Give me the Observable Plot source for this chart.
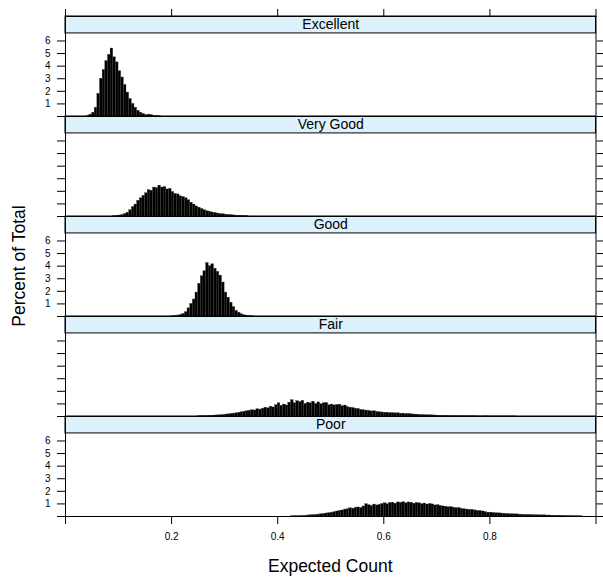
<!DOCTYPE html>
<html>
<head>
<meta charset="utf-8">
<script src="https://cdn.jsdelivr.net/npm/d3@7"></script>
<script src="https://cdn.jsdelivr.net/npm/@observablehq/plot@0.6"></script>
<style>
  html, body { margin: 0; padding: 0; background: white; }
  #chart { width: 603px; height: 578px; }
</style>
</head>
<body>
<div id="chart"></div>
<script>
// Panel (facet) categories, top to bottom
const panels = ["Excellent", "Very Good", "Good", "Fair", "Poor"];

// Histogram bin width (Expected Count units)
const binWidth = 0.005;

// Percent of total per bin; each series starts at the given bin edge
const excellentStart = 0.040;
const excellentPct = [0.05, 0.15, 0.3, 0.7, 1.8, 3.0, 3.7, 4.4, 4.9, 5.4, 4.7, 4.3, 3.6, 3.1, 2.5, 1.9, 1.4, 1.0, 0.7, 0.45, 0.3, 0.2, 0.12, 0.15, 0.12, 0.05, 0.04, 0.03];

const veryGoodStart = 0.090;
const veryGoodPct = [0.03, 0.05, 0.08, 0.12, 0.2, 0.3, 0.5, 0.75, 0.95, 1.25, 1.45, 1.65, 1.85, 2.1, 2.05, 2.3, 2.25, 2.45, 2.3, 2.35, 2.15, 2.2, 1.95, 1.8, 1.75, 1.6, 1.55, 1.45, 1.3, 1.1, 0.95, 0.8, 0.7, 0.6, 0.5, 0.42, 0.38, 0.32, 0.28, 0.24, 0.2, 0.18, 0.15, 0.13, 0.11, 0.09, 0.07, 0.06, 0.05, 0.04, 0.03];

const goodStart = 0.200;
const goodPct = [0.02, 0.05, 0.08, 0.12, 0.2, 0.35, 0.65, 1.0, 1.35, 1.9, 2.6, 3.2, 3.6, 4.25, 4.0, 4.15, 3.8, 3.55, 3.25, 2.7, 1.9, 1.5, 1.1, 0.75, 0.45, 0.3, 0.18, 0.1, 0.06, 0.04, 0.02];

const fairStart = 0.250;
const fairPct = [0.02, 0.03, 0.03, 0.04, 0.05, 0.06, 0.08, 0.09, 0.1, 0.12, 0.15, 0.17, 0.2, 0.23, 0.25, 0.3, 0.33, 0.38, 0.42, 0.45, 0.5, 0.48, 0.58, 0.55, 0.62, 0.7, 0.65, 0.78, 0.72, 0.9, 1.05, 0.85, 0.95, 0.88, 1.1, 1.3, 1.05, 1.22, 1.15, 1.25, 1.0, 1.1, 1.05, 1.18, 1.0, 1.12, 0.98, 1.05, 1.08, 0.9, 0.95, 0.88, 0.92, 0.94, 0.82, 0.87, 0.75, 0.7, 0.68, 0.62, 0.6, 0.52, 0.5, 0.47, 0.45, 0.4, 0.42, 0.36, 0.34, 0.32, 0.3, 0.3, 0.27, 0.28, 0.25, 0.26, 0.22, 0.23, 0.2, 0.21, 0.18, 0.16, 0.15, 0.13, 0.12, 0.11, 0.1, 0.1, 0.09, 0.08, 0.07, 0.06, 0.05, 0.05, 0.04, 0.04, 0.03, 0.03, 0.03, 0.02, 0.02, 0.02, 0.02, 0.02, 0.02, 0.01, 0.01, 0.01, 0.02, 0.01, 0.01, 0.01, 0.01, 0.01, 0.01, 0.01, 0.01, 0.01, 0.01, 0.01];

const poorStart = 0.425;
const poorPct = [0.02, 0.03, 0.03, 0.04, 0.05, 0.06, 0.08, 0.1, 0.11, 0.13, 0.15, 0.18, 0.2, 0.24, 0.27, 0.3, 0.35, 0.4, 0.45, 0.48, 0.55, 0.58, 0.65, 0.62, 0.7, 0.72, 0.68, 0.8, 0.98, 0.9, 0.84, 0.95, 0.88, 0.93, 1.0, 1.05, 0.98, 1.08, 1.1, 1.02, 1.12, 1.08, 1.14, 1.05, 1.12, 1.1, 1.02, 1.08, 1.05, 0.98, 1.03, 0.95, 1.0, 0.96, 0.88, 0.9, 0.84, 0.8, 0.78, 0.73, 0.75, 0.7, 0.66, 0.68, 0.6, 0.58, 0.55, 0.52, 0.53, 0.48, 0.45, 0.44, 0.4, 0.35, 0.3, 0.31, 0.28, 0.26, 0.25, 0.24, 0.22, 0.2, 0.19, 0.18, 0.17, 0.17, 0.15, 0.14, 0.13, 0.13, 0.12, 0.11, 0.1, 0.1, 0.09, 0.1, 0.08, 0.08, 0.07, 0.07, 0.06, 0.07, 0.05, 0.05, 0.04, 0.05, 0.03, 0.04, 0.02, 0.02];

// Axis ticks
const xTicks = [0, 0.2, 0.4, 0.6, 0.8, 1.0];
const xTickLabels = ["", "0.2", "0.4", "0.6", "0.8", ""];
const yTicks = [0, 1, 2, 3, 4, 5, 6];
const yTickLabels = ["1", "2", "3", "4", "5", "6"];
const labelledPanels = ["Excellent", "Good", "Poor"];

// ---- build tables for the library ----
const series = [
  [panels[0], excellentStart, excellentPct],
  [panels[1], veryGoodStart, veryGoodPct],
  [panels[2], goodStart, goodPct],
  [panels[3], fairStart, fairPct],
  [panels[4], poorStart, poorPct]
];
const bars = [];
for (const [panel, start, pct] of series) {
  pct.forEach((p, i) => {
    const x1 = +(start + i * binWidth).toFixed(4);
    bars.push({panel, x1, x2: +(x1 + binWidth).toFixed(4), pct: p});
  });
}
const yLabelRows = [];
for (const panel of labelledPanels) for (const t of yTickLabels) yLabelRows.push({panel, v: +t, label: t});

const yPanelMax = 6.6;     // top of each histogram region
const yStripTop = 7.944;   // strip occupies the band above it

const chart = Plot.plot({
  width: 603,
  height: 578,
  marginTop: 15,
  marginBottom: 60.7,
  marginLeft: 65,
  marginRight: 7.5,
  style: {fontFamily: "'Liberation Sans', Arial, Helvetica, sans-serif", fontSize: "10px", background: "white", color: "black", overflow: "visible"},
  x: {domain: [0, 1]},
  y: {domain: [0, yStripTop]},
  fy: {domain: panels, padding: 0, axis: null},
  marks: [
    Plot.rectY(bars, {x1: "x1", x2: "x2", y: "pct", fy: "panel", fill: "#000", stroke: "#3a3a3a", strokeWidth: 0.3, inset: 0}),
    Plot.rect(panels, {y1: yPanelMax, y2: yStripTop, fy: d => d, fill: "#dcf1fb", stroke: "black", strokeWidth: 1}),
    Plot.text(panels, {y: (yPanelMax + yStripTop) / 2, fy: d => d, text: d => d, frameAnchor: "middle", fontSize: 14, fill: "black"}),
    Plot.frame({stroke: "black", strokeWidth: 1}),
    Plot.axisY({anchor: "left", ticks: yTicks, tickSize: 8, tickFormat: () => "", label: null}),
    Plot.axisY({anchor: "right", ticks: yTicks, tickSize: 8, tickFormat: () => "", label: null}),
    Plot.text(yLabelRows, {y: "v", fy: "panel", text: "label", frameAnchor: "left", dx: -15, textAnchor: "end", fontSize: 10}),
    Plot.axisX({anchor: "bottom", ticks: xTicks, tickSize: 8, tickPadding: 8, tickFormat: (d, i) => xTickLabels[xTicks.indexOf(d)], label: null, fontSize: 10}),
    Plot.axisX({anchor: "top", ticks: xTicks, tickSize: 8, tickFormat: () => "", label: null})
  ]
});

const svg = d3.select(chart);
svg.append("text")
  .attr("x", 330.25).attr("y", 572)
  .attr("text-anchor", "middle")
  .attr("font-size", 17.5)
  .attr("fill", "black")
  .text("Expected Count");
svg.append("text")
  .attr("transform", "translate(25,266) rotate(-90)")
  .attr("text-anchor", "middle")
  .attr("font-size", 17.5)
  .attr("fill", "black")
  .text("Percent of Total");

document.getElementById("chart").appendChild(chart);
</script>
</body>
</html>
